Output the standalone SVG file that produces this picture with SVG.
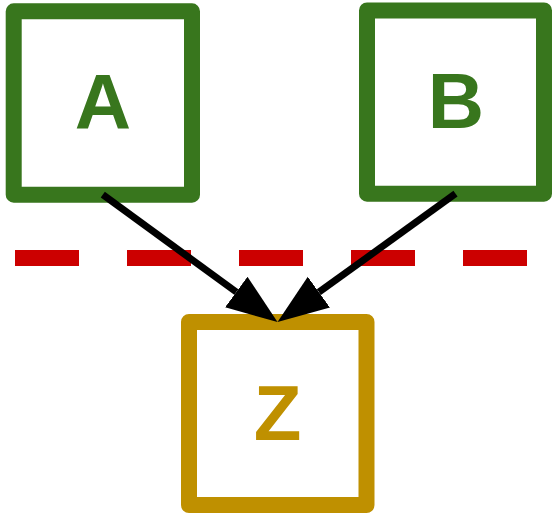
<svg xmlns="http://www.w3.org/2000/svg" width="552" height="513" viewBox="0 0 552 513">
<style>
.box{fill:#ffffff;stroke-width:16;stroke-linejoin:round}
.g{stroke:#38761d}
.y{stroke:#bf9000}
.lbl{font-family:"Liberation Sans",Arial,sans-serif;font-weight:bold;font-size:78px;text-anchor:middle}
.edge{fill:none;stroke:#000000;stroke-width:7;marker-end:url(#ah)}
</style>
<defs>
<marker id="ah" markerUnits="userSpaceOnUse" markerWidth="52" markerHeight="40" refX="0" refY="19" orient="auto" viewBox="0 0 52 38">
<path d="M0,0 L51,19 L0,38 z" fill="#000000"/>
</marker>
</defs>
<line x1="15" y1="258" x2="527" y2="258" stroke="#cc0000" stroke-width="16" stroke-dasharray="64 48"/>
<g id="A">
<rect class="box g" x="13.7" y="11.3" width="178.3" height="183.4"/>
<text class="lbl" x="102.8" y="129" fill="#38761d">A</text>
</g>
<g id="B">
<rect class="box g" x="367" y="10.5" width="177" height="183.2"/>
<text class="lbl" x="456" y="128.3" fill="#38761d">B</text>
</g>
<g id="Z">
<rect class="box y" x="189" y="322" width="177.5" height="183"/>
<text class="lbl" x="277.5" y="440" fill="#bf9000">Z</text>
</g>
<g id="connectors">
<line class="edge" x1="102.8" y1="194.7" x2="236.3" y2="292"/>
<line class="edge" x1="455.5" y1="193.7" x2="318.9" y2="292.2"/>
</g>
</svg>
